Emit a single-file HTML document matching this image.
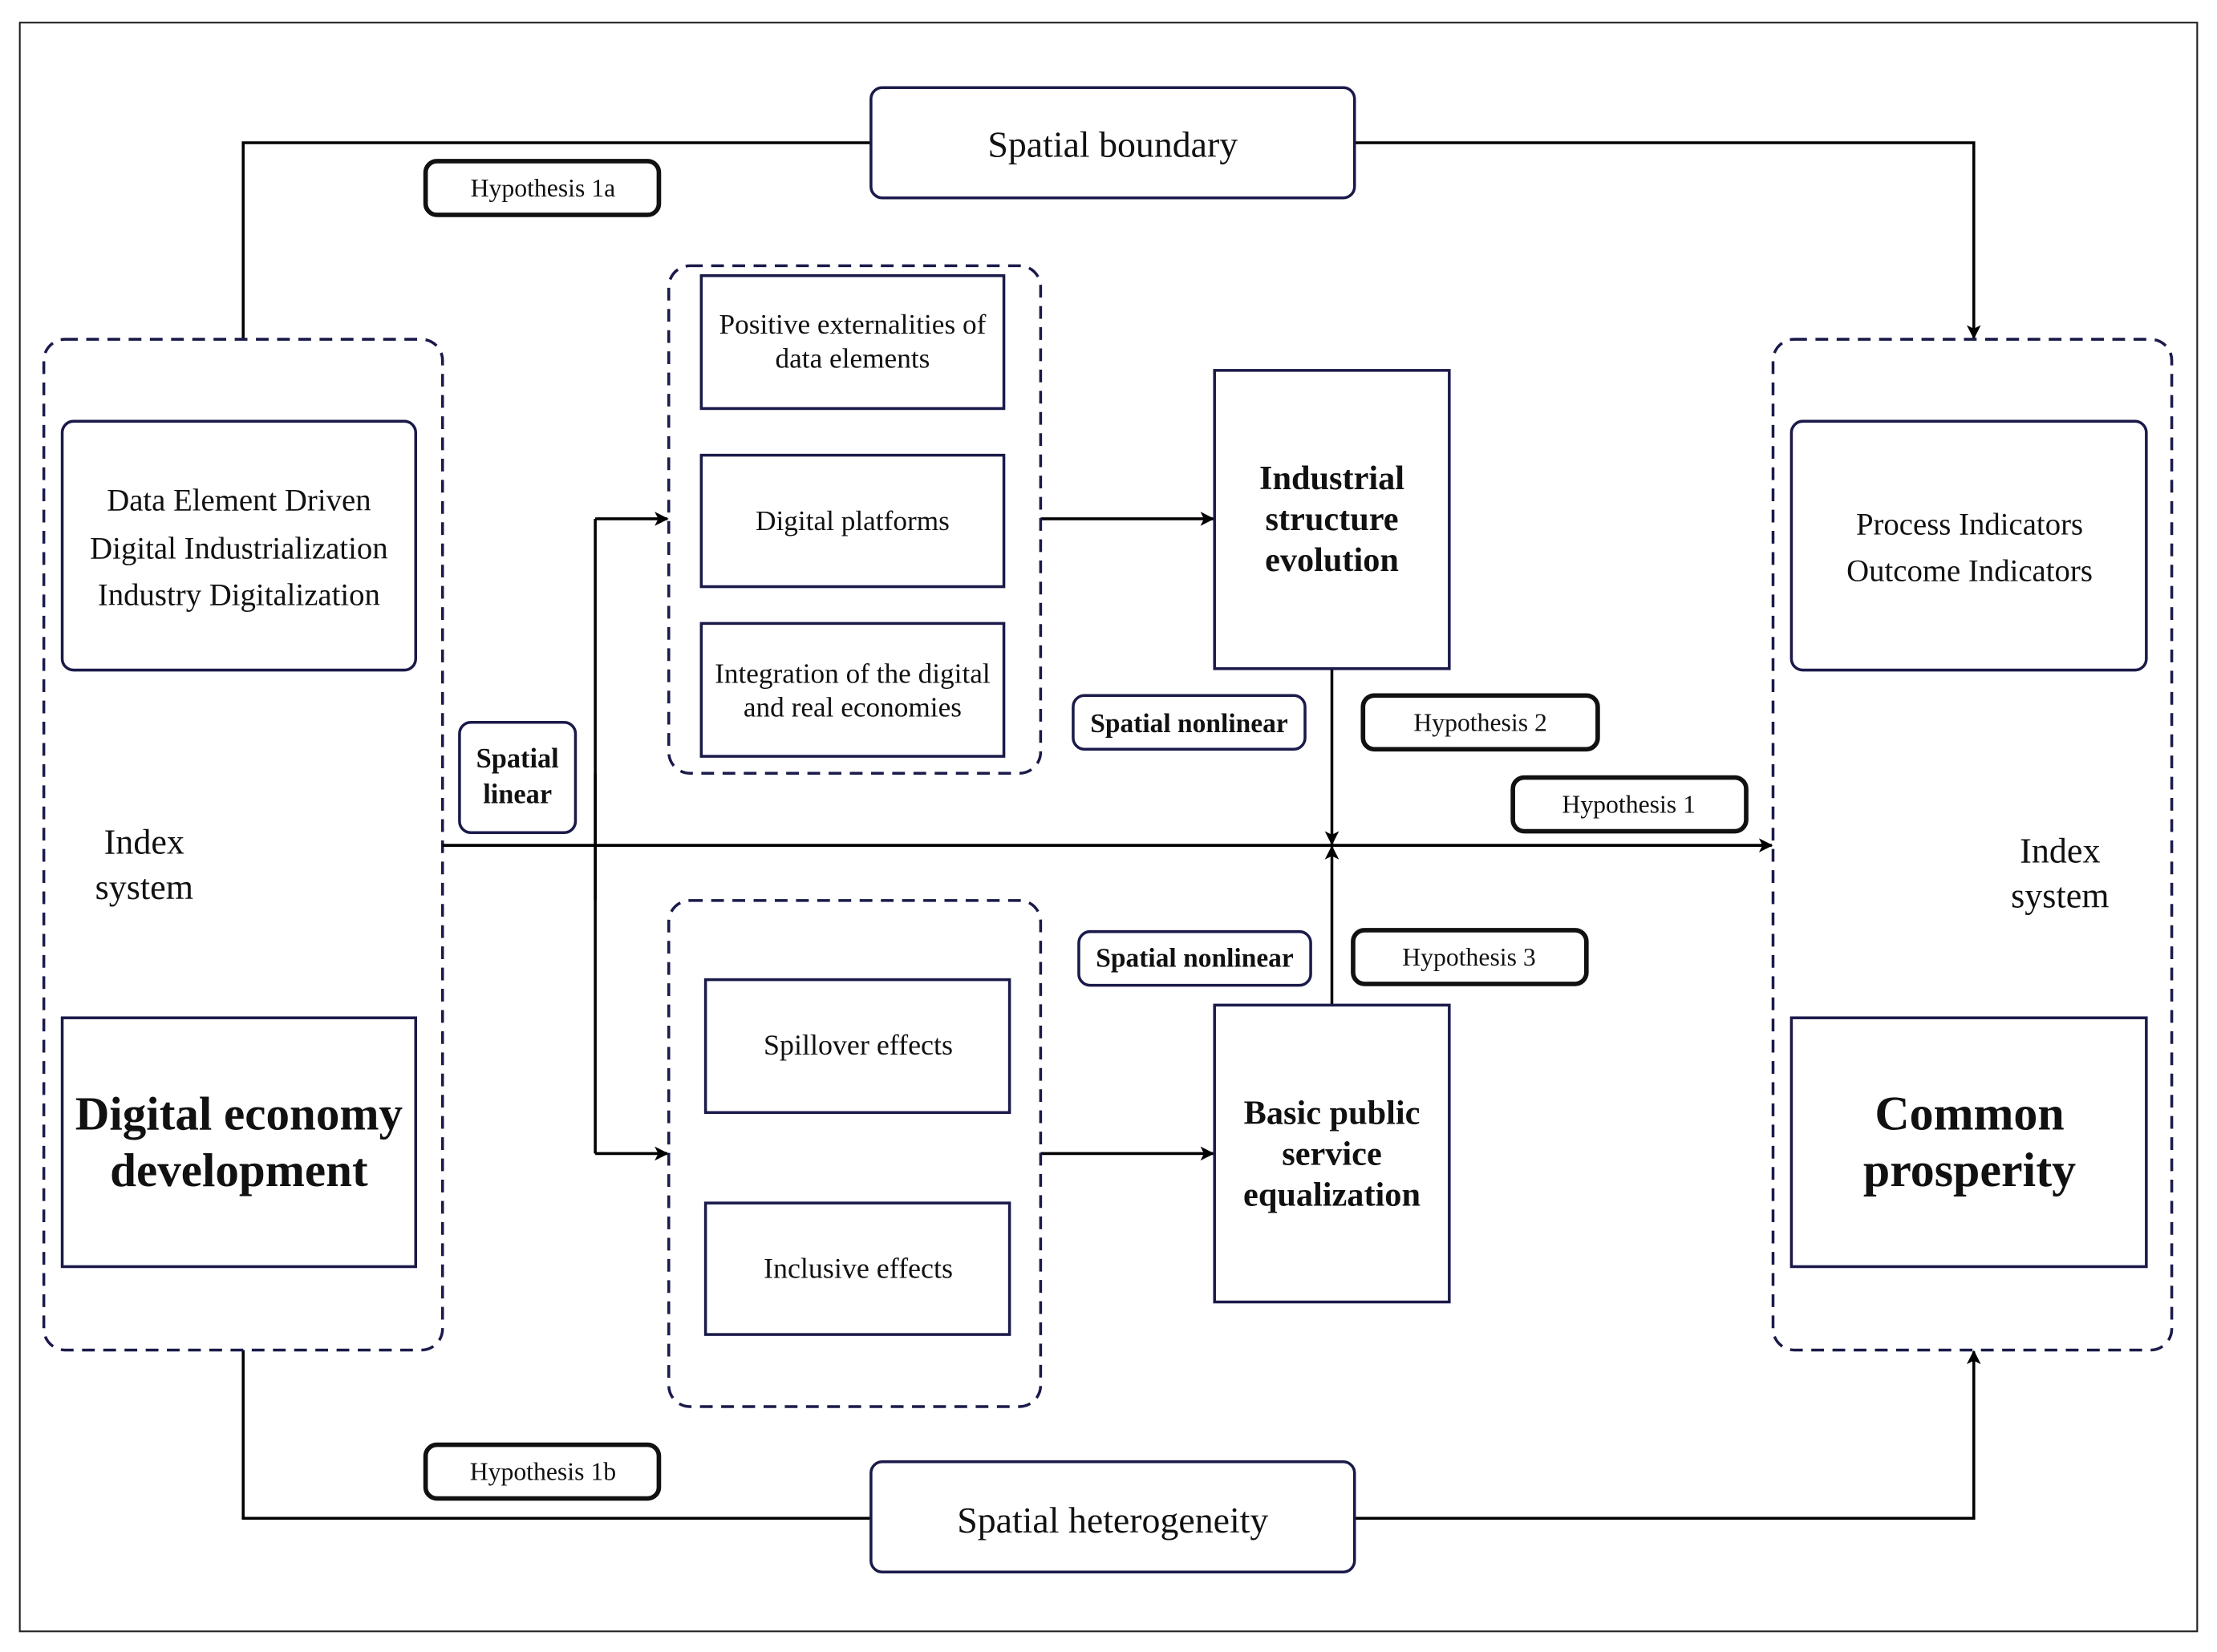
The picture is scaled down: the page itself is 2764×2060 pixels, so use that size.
<!DOCTYPE html>
<html><head><meta charset="utf-8"><style>
html,body{margin:0;padding:0;background:#fff;}
svg{display:block;}
text{font-family:"Liberation Serif",serif;fill:#111;}
</style></head><body>
<svg width="2764" height="2060" viewBox="0 0 1568 1168.6" preserveAspectRatio="none" xmlns="http://www.w3.org/2000/svg">
<defs>
<marker id="a" markerWidth="10" markerHeight="10" refX="9" refY="5" orient="auto" markerUnits="userSpaceOnUse">
<path d="M0,0 L10,5 L0,10 L2.5,5 z" fill="#000"/></marker>
</defs>
<rect x="0" y="0" width="1568" height="1169" fill="#fff"/>
<rect x="14" y="16" width="1540" height="1138" fill="none" stroke="#222" stroke-width="1.2"/>

<g fill="none" stroke="#000" stroke-width="2">
<polyline points="172,240 172,101 616,101"/>
<polyline points="958,101 1396,101 1396,239" marker-end="url(#a)"/>
<polyline points="172,955 172,1074 616,1074"/>
<polyline points="958,1074 1396,1074 1396,956" marker-end="url(#a)"/>
<line x1="169" y1="474" x2="169" y2="719" marker-end="url(#a)"/>
<line x1="1393" y1="474" x2="1393" y2="719" marker-end="url(#a)"/>
<line x1="313" y1="598" x2="1253" y2="598" marker-end="url(#a)"/>
<line x1="421" y1="367" x2="421" y2="816"/>
<line x1="421" y1="367" x2="472" y2="367" marker-end="url(#a)"/>
<line x1="421" y1="816" x2="472" y2="816" marker-end="url(#a)"/>
<line x1="736" y1="367" x2="858" y2="367" marker-end="url(#a)"/>
<line x1="736" y1="816" x2="858" y2="816" marker-end="url(#a)"/>
<line x1="942" y1="473" x2="942" y2="597" marker-end="url(#a)"/>
<line x1="942" y1="711" x2="942" y2="599" marker-end="url(#a)"/>
</g>

<g fill="#fff" stroke="#1a1a4a" stroke-width="2" stroke-dasharray="9,6">
<rect x="31" y="240" width="282" height="715" rx="15"/>
<rect x="1254" y="240" width="282" height="715" rx="15"/>
<rect x="473" y="188" width="263" height="359" rx="15"/>
<rect x="473" y="637" width="263" height="358" rx="15"/>
</g>
<line x1="313" y1="598" x2="1253" y2="598" stroke="#000" stroke-width="2"/>
<line x1="421" y1="547" x2="421" y2="637" stroke="#000" stroke-width="2"/>

<g fill="#fff" stroke="#1a1a4a" stroke-width="2">
<rect x="616" y="62" width="342" height="78" rx="8"/>
<rect x="616" y="1034" width="342" height="78" rx="8"/>
<rect x="44" y="298" width="250" height="176" rx="8"/>
<rect x="1267" y="298" width="251" height="176" rx="8"/>
<rect x="44" y="720" width="250" height="176"/>
<rect x="1267" y="720" width="251" height="176"/>
<rect x="496" y="195" width="214" height="94"/>
<rect x="496" y="322" width="214" height="93"/>
<rect x="496" y="441" width="214" height="94"/>
<rect x="499" y="693" width="215" height="94"/>
<rect x="499" y="851" width="215" height="93"/>
<rect x="859" y="262" width="166" height="211"/>
<rect x="859" y="711" width="166" height="210"/>
<rect x="325" y="511" width="82" height="78" rx="8"/>
<rect x="759" y="492" width="164" height="38" rx="8"/>
<rect x="763" y="659" width="164" height="38" rx="8"/>
</g>
<g fill="#fff" stroke="#111" stroke-width="3.2">
<rect x="301" y="114" width="165" height="38" rx="8"/>
<rect x="301" y="1022" width="165" height="38" rx="8"/>
<rect x="964" y="492" width="166" height="38" rx="8"/>
<rect x="1070" y="550" width="165" height="38" rx="8"/>
<rect x="957" y="658" width="165" height="38" rx="8"/>
</g>

<g text-anchor="middle">
<text x="787" y="111" font-size="26">Spatial boundary</text>
<text x="787" y="1084" font-size="26">Spatial heterogeneity</text>
<text x="384" y="139" font-size="18">Hypothesis 1a</text>
<text x="384" y="1047" font-size="18">Hypothesis 1b</text>
<text x="1047" y="517" font-size="18">Hypothesis 2</text>
<text x="1152" y="575" font-size="18">Hypothesis 1</text>
<text x="1039" y="683" font-size="18">Hypothesis 3</text>
<text x="841" y="518" font-size="19" font-weight="bold">Spatial nonlinear</text>
<text x="845" y="684" font-size="19" font-weight="bold">Spatial nonlinear</text>
<text x="366" y="543" font-size="19.5" font-weight="bold">Spatial</text>
<text x="366" y="568" font-size="19.5" font-weight="bold">linear</text>
<text x="169" y="361" font-size="22">Data Element Driven</text>
<text x="169" y="395" font-size="22">Digital Industrialization</text>
<text x="169" y="428" font-size="22">Industry Digitalization</text>
<text x="1393" y="378" font-size="22">Process Indicators</text>
<text x="1393" y="411" font-size="22">Outcome Indicators</text>
<text x="102" y="604" font-size="25">Index</text>
<text x="102" y="636" font-size="25">system</text>
<text x="1457" y="610" font-size="25">Index</text>
<text x="1457" y="642" font-size="25">system</text>
<text x="169" y="799" font-size="33.5" font-weight="bold">Digital economy</text>
<text x="169" y="839" font-size="33.5" font-weight="bold">development</text>
<text x="1393" y="799" font-size="34" font-weight="bold">Common</text>
<text x="1393" y="839" font-size="34" font-weight="bold">prosperity</text>
<text x="603" y="236" font-size="20">Positive externalities of</text>
<text x="603" y="260" font-size="20">data elements</text>
<text x="603" y="375" font-size="20">Digital platforms</text>
<text x="603" y="483" font-size="20">Integration of the digital</text>
<text x="603" y="507" font-size="20">and real economies</text>
<text x="607" y="746" font-size="20.4">Spillover effects</text>
<text x="607" y="904" font-size="20.4">Inclusive effects</text>
<text x="942" y="346" font-size="24" font-weight="bold">Industrial</text>
<text x="942" y="375" font-size="24" font-weight="bold">structure</text>
<text x="942" y="404" font-size="24" font-weight="bold">evolution</text>
<text x="942" y="795" font-size="24" font-weight="bold">Basic public</text>
<text x="942" y="824" font-size="24" font-weight="bold">service</text>
<text x="942" y="853" font-size="24" font-weight="bold">equalization</text>
</g>
</svg>
</body></html>
